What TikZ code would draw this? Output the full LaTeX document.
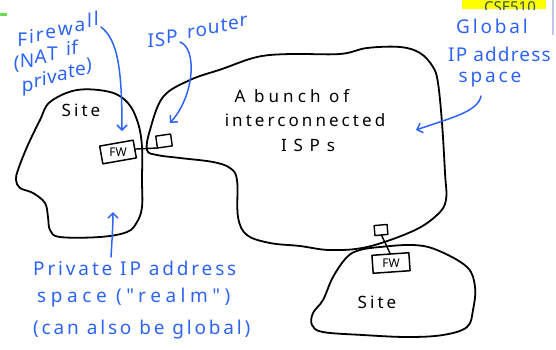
\documentclass[tikz,border=0pt]{standalone}
\usepackage{fontspec}
\setmainfont{Noto Sans}
\newfontfamily\handfont{Noto Sans}[LetterSpace=15]
\newfontfamily\handtightfont{Noto Sans}[LetterSpace=6]
\newfontfamily\handwidefont{Noto Sans}[LetterSpace=24]
\newfontfamily\inkfont{Noto Sans}[LetterSpace=18]
\newfontfamily\inkmidfont{Noto Sans}[LetterSpace=24]
\newfontfamily\wideinkfont{Noto Sans}[LetterSpace=40]
\usetikzlibrary{arrows.meta,calc}

\definecolor{inkblue}{RGB}{45,100,245}
\definecolor{tabyellow}{RGB}{255,255,0}
\definecolor{tabtext}{RGB}{45,85,75}
\definecolor{lavender}{RGB}{195,195,235}
\definecolor{marker}{RGB}{110,220,80}

% Writes a word along a rising baseline: each glyph stays upright, is
% followed by a small gap, and is lifted in proportion to the distance
% already written.  #1 = gap, #2 = rise per unit of width, #3 = text.
\newdimen\slantacc
\newdimen\slantgap
\newcommand\slanted[3]{\begingroup\slantgap=#1\def\slantk{#2}\slantacc=0pt\slantloop#3\relax\endgroup}
\def\slantloop#1{%
  \ifx\relax#1\else
    \setbox0=\hbox{#1\kern\slantgap}\dimen0=\wd0
    \raise\slantk\slantacc\box0
    \advance\slantacc by \dimen0
    \expandafter\slantloop
  \fi}

\tikzset{
  outline/.style={line width=1.8pt, black, line join=round, line cap=round},
  boxline/.style={line width=1.5pt, black, line join=round},
  pen/.style={line width=1.5pt, inkblue, line cap=round,
              -{Straight Barb[length=5pt,width=10pt,line width=1.5pt]}},
  note/.style={inkblue, inner sep=0pt, font=\handfont\fontsize{19}{21}\selectfont},
  widenote/.style={note, font=\handwidefont\fontsize{19}{21}\selectfont},
  blacktext/.style={black, inner sep=0pt, font=\inkfont\fontsize{17}{19}\selectfont},
  fwlabel/.style={black, inner sep=0pt, font=\fontsize{12}{12}\selectfont},
}

\begin{document}
\begin{tikzpicture}[x=1pt,y=1pt]
\useasboundingbox (0,0) rectangle (556,-349);

% window chrome at the top
\begin{scope}
  \clip (462,0) rectangle (546,-9);
  \fill[tabyellow] (462,0) rectangle (546,-9);
  \node[tabtext, font=\bfseries\fontsize{15}{15}\selectfont, anchor=north, inner sep=0pt] (tab) at (510,-1) {CSE510};
\end{scope}
\draw[lavender, line width=1.5pt] (553,0) -- (553,-35);
\fill[marker] (0,-13) rectangle (7,-16);

% left site
\draw[outline] plot[smooth cycle, tension=0.6] coordinates {
  (50,-102) (77,-90) (110,-92) (128,-103) (138,-123) (142,-147) (142,-180) (142,-207)
  (137,-222) (127,-232) (100,-237) (60,-237) (50,-230) (48,-217) (45,-203) (33,-193)
  (20,-188) (16,-180) (18,-170) (27,-147) (40,-120)};

% the cloud of ISPs
\draw[outline] plot[smooth cycle, tension=0.6] coordinates {
  (147,-150) (150,-130) (163,-97) (190,-80) (222,-69) (257,-57) (290,-54) (340,-54)
  (367,-48) (400,-47) (420,-53) (433,-67) (438,-83) (442,-123) (445,-173) (446,-200)
  (437,-215) (413,-231) (367,-247) (330,-250) (300,-246) (270,-243) (247,-235)
  (238,-217) (237,-180) (230,-168) (213,-162) (180,-158) (157,-155)};

% lower site
\draw[outline] plot[smooth cycle, tension=0.6] coordinates {
  (360,-250) (380,-247) (413,-245) (437,-250) (467,-267) (475,-287) (473,-310)
  (467,-327) (443,-335) (407,-337) (363,-335) (323,-332) (312,-325) (313,-313)
  (323,-300) (333,-277) (347,-257)};

% firewall of the left site and its ISP router
\begin{scope}[rotate around={10:(118,-152)}]
  \draw[boxline] (101,-143) -- (135,-143) -- (135,-161) -- (101,-161) -- cycle;
  \coordinate (fw1e) at (135,-152);
\end{scope}
\node[fwlabel] (fw1) at (118,-152) {FW};
\begin{scope}[rotate around={8:(164,-141)}]
  \draw[boxline, line width=1.4pt] (156.5,-135) -- (171.5,-135) -- (171.5,-147) -- (156.5,-147) -- cycle;
  \coordinate (r1sw) at (156.5,-147);
\end{scope}
\draw[outline, line width=1.4pt] (fw1e) -- (r1sw);

% firewall of the lower site and its ISP router
\begin{scope}[rotate around={5:(381,-230)}]
  \draw[boxline, line width=1.4pt] (374.5,-225) -- (387.5,-225) -- (387.5,-235) -- (374.5,-235) -- cycle;
  \coordinate (r2s) at (381,-235);
\end{scope}
\begin{scope}[rotate around={4:(391,-263)}]
  \draw[boxline] (372.5,-254) -- (409.5,-254) -- (409.5,-272) -- (372.5,-272) -- cycle;
  \coordinate (fw2n) at (391,-254);
\end{scope}
\node[fwlabel] (fw2) at (391,-263) {FW};
\draw[outline, line width=1.4pt] (r2s) -- (fw2n);

% black labels
\node[blacktext] (site1) at (81,-110) {Site};
\node[blacktext] (site2) at (377,-302) {Site};
\node[blacktext, font=\inkmidfont\fontsize{17}{19}\selectfont] (isp1) at (292,-96) {A bunch of};
\node[blacktext] (isp2) at (305,-120) {interconnected};
\node[blacktext, font=\wideinkfont\fontsize{17}{19}\selectfont] (isp3) at (308,-145) {ISPs};

% blue notes
\node[note] (f1) at (59,-29) {\slanted{1.8pt}{0.27}{Firewall}};
\node[note] (f2) at (46,-56) {\slanted{0.3pt}{0.27}{(NAT~if}};
\node[note] (f3) at (57,-77) {\slanted{0.3pt}{0.3}{private)}};

\node[note] (i1) at (198,-32) {\slanted{0.8pt}{0.23}{ISP~router}};

\node[note] (g1) at (492,-26) {Global};
\node[note, font=\handtightfont\fontsize{19}{21}\selectfont, anchor=west] (g2) at (448,-54) {IP address};
\node[note] (g3) at (490,-80) {space};

\node[note, anchor=west] (p1) at (33,-268) {Private IP address};
\node[widenote, anchor=west] (p2) at (37,-298) {space ("realm")};
\node[note, anchor=west] (p3) at (33,-330) {(can also be global)};

% arrow ends
\coordinate (startfw) at (101,-27);
\coordinate (tipfw) at (122,-131);
\coordinate (startrouter) at (180,-42);
\coordinate (tiprouter) at (170,-123);
\coordinate (startglobal) at (481,-96);
\coordinate (tipglobal) at (416,-130);
\coordinate (startsite) at (111,-257);
\coordinate (tipsite) at (113,-212);

\draw[pen] (startfw) .. controls (118,-40) and (122,-70) .. (tipfw);
\draw[pen] (startrouter) .. controls (197,-48) and (195,-95) .. (tiprouter);
\draw[pen] (startglobal) .. controls (478,-112) and (450,-118) .. (tipglobal);
\draw[pen] (startsite) .. controls (112,-240) and (113,-225) .. (tipsite);
\end{tikzpicture}
\end{document}
